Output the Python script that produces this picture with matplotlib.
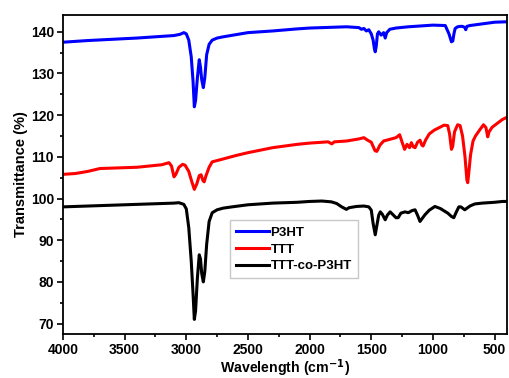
import matplotlib
matplotlib.use("Agg")
import matplotlib.pyplot as plt
from matplotlib.ticker import MultipleLocator

plt.rcParams['font.family'] = ['Liberation Sans', 'DejaVu Sans']
plt.rcParams['font.weight'] = 'bold'

# (wavenumber, transmittance) readings
p3ht_points = [(4000,137.5),(3800,137.9),(3600,138.2),(3400,138.5),(3200,138.9),(3100,139.1),(3050,139.4),
    (3020,139.8),(3000,139.5),(2980,138.0),(2960,134),(2945,128),(2935,122),(2925,123.5),(2910,129),
    (2895,133.3),(2885,131.5),(2875,128.5),(2862,126.6),(2850,129),(2835,134.5),(2815,137),(2790,138.0),
    (2750,138.5),(2700,138.8),(2600,139.3),(2500,139.8),(2300,140.2),(2100,140.7),(2000,140.9),(1900,141.0),
    (1800,141.1),(1700,141.2),(1600,141.0),(1580,140.6),(1560,140.8),(1540,140.2),(1520,140.5),(1500,139.5),
    (1485,138.0),(1475,136.0),(1468,135.2),(1460,136.5),(1450,139.5),(1440,140.0),(1420,139.2),(1400,139.8),
    (1387,138.5),(1375,139.8),(1350,140.6),(1300,140.9),(1200,141.2),(1100,141.4),(1000,141.6),(900,141.5),
    (870,139.5),(850,137.6),(839,137.8),(830,139.5),(820,140.8),(800,141.2),(780,141.3),(760,141.3),
    (740,141.0),(734,140.5),(725,141.3),(700,141.5),(600,141.9),(500,142.3),(400,142.4)]

ttt_points = [(4000,105.8),(3900,106.0),(3800,106.5),(3700,107.2),(3600,107.3),(3500,107.4),(3400,107.5),
    (3300,107.8),(3200,108.1),(3140,108.6),(3120,107.8),(3100,105.2),(3085,105.8),(3060,107.5),(3030,108.2),
    (3010,108.0),(2980,106.5),(2955,104.0),(2935,102.2),(2915,103.5),(2895,105.5),(2880,105.7),(2865,104.3),
    (2855,104.0),(2840,105.5),(2815,107.5),(2790,108.8),(2700,109.5),(2600,110.3),(2500,111.0),(2400,111.6),
    (2300,112.2),(2200,112.6),(2100,113.0),(2000,113.3),(1900,113.5),(1850,113.6),(1820,113.1),(1800,113.6),
    (1700,113.8),(1600,114.3),(1560,114.6),(1530,114.0),(1500,113.5),(1470,111.5),(1455,111.3),(1430,112.8),
    (1400,113.8),(1350,114.2),(1300,114.6),(1270,115.3),(1250,113.5),(1230,111.8),(1210,113.0),(1190,112.2),
    (1175,113.4),(1160,112.4),(1145,112.2),(1125,113.5),(1105,114.0),(1090,112.8),(1080,112.6),(1060,114.0),
    (1030,115.5),(990,116.4),(950,117.0),(910,117.6),(880,117.5),(865,115.5),(850,111.8),(840,112.5),
    (825,116.0),(800,117.7),(780,117.5),(760,115.0),(740,110.0),(725,104.5),(718,103.8),(710,106.0),
    (695,110.5),(675,113.8),(655,115.0),(620,116.5),(590,117.7),(570,117.0),(556,114.8),(545,116.0),
    (520,117.1),(480,118.0),(440,118.9),(400,119.5)]

copolymer_points = [(4000,98.0),(3800,98.2),(3600,98.4),(3400,98.6),(3200,98.8),(3100,98.9),(3060,99.0),
    (3020,98.6),(3000,97.5),(2980,93),(2960,85),(2945,77),(2935,71),(2925,73),(2910,81),(2895,86.5),
    (2885,85.5),(2875,82),(2862,80),(2850,82.5),(2835,89),(2815,94.5),(2790,96.6),(2750,97.3),(2700,97.7),
    (2629,98.0),(2500,98.5),(2300,98.9),(2100,99.1),(2000,99.3),(1900,99.4),(1823,99.2),(1780,98.8),
    (1740,98.0),(1702,97.4),(1680,97.8),(1620,98.1),(1560,98.2),(1520,98.0),(1500,97.2),(1485,94.0),
    (1468,91.3),(1455,93.5),(1440,96.0),(1427,96.8),(1410,96.2),(1387,94.9),(1370,96.0),(1347,96.8),
    (1320,96.0),(1300,95.4),(1282,95.4),(1260,96.5),(1226,96.8),(1200,96.6),(1170,97.1),(1145,97.3),
    (1125,96.0),(1105,94.5),(1085,95.3),(1065,96.1),(1030,97.2),(984,98.1),(940,97.6),(880,96.5),
    (850,95.7),(831,95.4),(810,96.8),(790,98.0),(774,98.0),(742,97.3),(700,98.2),(661,98.7),(600,98.9),
    (500,99.1),(435,99.3),(400,99.3)]

series_labels = ["P3HT", "TTT", "TTT-co-P3HT"]
series_colors = ["#0000ff", "#ff0000", "#000000"]
x_ticks = [4000, 3500, 3000, 2500, 2000, 1500, 1000, 500]
y_ticks = [70, 80, 90, 100, 110, 120, 130, 140]

fig = plt.figure(figsize=(5.10, 3.78), dpi=100)
ax = fig.add_axes([0.1235, 0.1164, 0.8705, 0.8436])

for pts, lab, col in zip([p3ht_points, ttt_points, copolymer_points], series_labels, series_colors):
    xs = [p[0] for p in pts]
    ys = [p[1] for p in pts]
    ax.plot(xs, ys, color=col, lw=2.2, label=lab, solid_joinstyle='round')

ax.set_xlim(4000, 400)
ax.set_ylim(67.5, 144)
ax.set_xticks(x_ticks)
ax.set_yticks(y_ticks)
ax.xaxis.set_minor_locator(MultipleLocator(250))
ax.yaxis.set_minor_locator(MultipleLocator(5))
ax.tick_params(which='both', direction='out', top=False, right=False, width=1.2, labelsize=10, pad=2.5)
ax.tick_params(which='major', length=4)
ax.tick_params(which='minor', length=2.5)
for lbl in ax.get_xticklabels() + ax.get_yticklabels():
    lbl.set_fontweight('bold')
for s in ax.spines.values():
    s.set_linewidth(1.3)

ax.set_xlabel("Wavelength (cm$^{\\mathbf{-1}}$)", fontsize=10.2, fontweight='bold', labelpad=0)
ax.set_ylabel("Transmittance (%)", fontsize=10.5, fontweight='bold', labelpad=2)

leg = ax.legend(loc='upper left', bbox_to_anchor=(0.377, 0.356),
                prop={'weight': 'bold', 'size': 9.5},
                handlelength=2.5, handletextpad=0.1, labelspacing=0.35, borderpad=0.45,
                fancybox=False, frameon=True, borderaxespad=0)
leg.get_frame().set_edgecolor('#bbbbbb')
leg.get_frame().set_linewidth(1.0)

fig.savefig("out.png", dpi=100)
